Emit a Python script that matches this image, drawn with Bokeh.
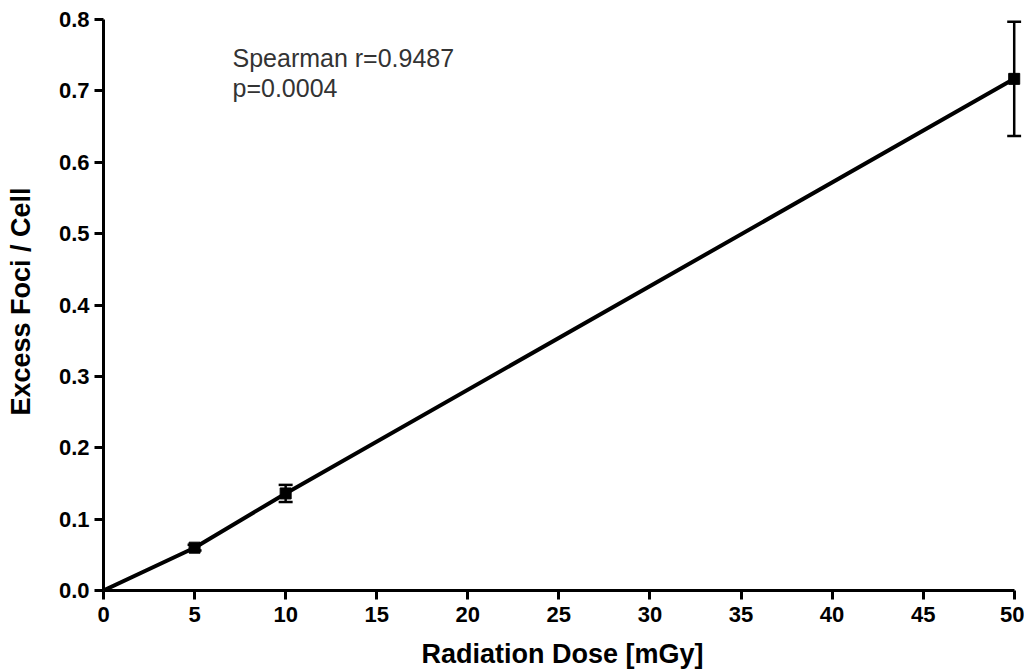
from bokeh.plotting import figure
from bokeh.models import Range1d, FixedTicker, ColumnDataSource, Whisker, Label
from bokeh.embed import file_html
from bokeh.resources import INLINE

# data
dose = [5, 10, 50]
foci = [0.060, 0.136, 0.717]
err = [0.004, 0.012, 0.080]
line_dose = [0, 5, 10, 50]
line_foci = [0.0, 0.060, 0.136, 0.717]
x_ticks = [0, 5, 10, 15, 20, 25, 30, 35, 40, 45, 50]
y_ticks = [0.0, 0.1, 0.2, 0.3, 0.4, 0.5, 0.6, 0.7, 0.8]

FONT = "Liberation Sans"

p = figure(width=1024, height=671, output_backend="svg", toolbar_location=None,
           x_range=Range1d(0, 50.4), y_range=Range1d(0, 0.81),
           min_border_left=103, min_border_right=3, min_border_top=12, min_border_bottom=81)
p.outline_line_color = None
p.xgrid.grid_line_color = None
p.ygrid.grid_line_color = None

for ax in (p.xaxis, p.yaxis):
    ax.axis_line_width = 3
    ax.axis_line_color = "black"
    ax.major_tick_line_width = 3
    ax.major_tick_line_color = "black"
    ax.major_tick_out = 9
    ax.major_tick_in = 0
    ax.minor_tick_line_color = None
    ax.major_label_text_font = FONT
    ax.major_label_text_font_style = "bold"
    ax.major_label_text_font_size = "22px"
    ax.major_label_text_color = "black"
    ax.axis_label_text_font = FONT
    ax.axis_label_text_font_style = "bold"
    ax.axis_label_text_font_size = "27px"
    ax.axis_label_text_color = "black"

p.xaxis.bounds = (0, 50)
p.yaxis.bounds = (0, 0.8)
p.xaxis.ticker = FixedTicker(ticks=x_ticks)
p.yaxis.ticker = FixedTicker(ticks=y_ticks)
p.yaxis.major_label_overrides = {t: f"{t:.1f}" for t in y_ticks}
p.xaxis.axis_label = "Radiation Dose [mGy]"
p.yaxis.axis_label = "Excess Foci / Cell"
p.xaxis.major_label_standoff = 7
p.yaxis.major_label_standoff = 5
p.xaxis.axis_label_standoff = 14
p.yaxis.axis_label_standoff = 20

p.line(line_dose, line_foci, line_width=4, color="black")

src = ColumnDataSource(dict(x=dose, y=foci,
                            lo=[f - e for f, e in zip(foci, err)],
                            hi=[f + e for f, e in zip(foci, err)]))
w = Whisker(source=src, base="x", lower="lo", upper="hi", line_width=2.5, line_color="black")
w.upper_head.size = 14
w.lower_head.size = 14
w.upper_head.line_width = 2.5
w.lower_head.line_width = 2.5
p.add_layout(w)
p.scatter("x", "y", source=src, marker="square", size=11, color="black")

p.add_layout(Label(x=232 - 103, y=590 - 43, x_units="screen", y_units="screen",
                   text="Spearman r=0.9487", text_font=FONT, text_font_size="25px",
                   text_color="#333333", text_baseline="top"))
p.add_layout(Label(x=232 - 103, y=590 - 73, x_units="screen", y_units="screen",
                   text="p=0.0004", text_font=FONT, text_font_size="25px",
                   text_color="#333333", text_baseline="top"))

open("out.html", "w").write(file_html(p, INLINE))
